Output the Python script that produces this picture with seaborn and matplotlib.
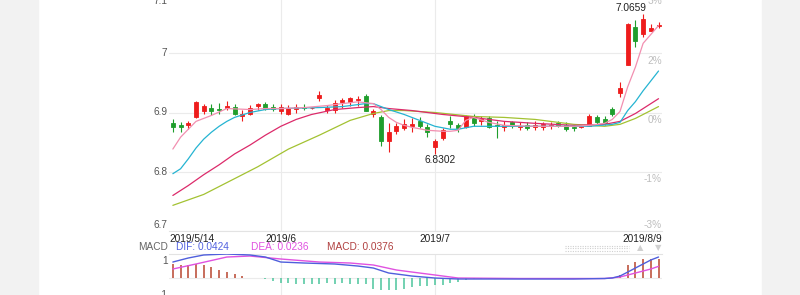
import numpy as np
import pandas as pd
import matplotlib
matplotlib.use("Agg")
import matplotlib.pyplot as plt
import seaborn as sns
from matplotlib.patches import Rectangle
from matplotlib.lines import Line2D

sns.set_style("white")
plt.rcParams["font.family"] = ["Liberation Sans", "DejaVu Sans"]

# ---------------- data ----------------
dates = ["2019/5/14", "2019/5/15", "2019/5/16", "2019/5/17", "2019/5/20", "2019/5/21", "2019/5/22",
         "2019/5/23", "2019/5/24", "2019/5/27", "2019/5/28", "2019/5/29", "2019/5/30", "2019/5/31",
         "2019/6/3", "2019/6/4", "2019/6/5", "2019/6/6", "2019/6/7", "2019/6/10", "2019/6/11",
         "2019/6/12", "2019/6/13", "2019/6/14", "2019/6/17", "2019/6/18", "2019/6/19", "2019/6/20",
         "2019/6/21", "2019/6/24", "2019/6/25", "2019/6/26", "2019/6/27", "2019/6/28",
         "2019/7/1", "2019/7/2", "2019/7/3", "2019/7/4", "2019/7/5", "2019/7/8", "2019/7/9",
         "2019/7/10", "2019/7/11", "2019/7/12", "2019/7/15", "2019/7/16", "2019/7/17", "2019/7/18",
         "2019/7/19", "2019/7/22", "2019/7/23", "2019/7/24", "2019/7/25", "2019/7/26", "2019/7/29",
         "2019/7/30", "2019/7/31", "2019/8/1", "2019/8/2", "2019/8/5", "2019/8/6", "2019/8/7",
         "2019/8/8", "2019/8/9"]

open_ = [6.8817, 6.8783, 6.8783, 6.8917, 6.9017, 6.9083, 6.9067, 6.9083, 6.9100, 6.8933,
         6.8983, 6.9117, 6.9150, 6.9100, 6.9033, 6.8983, 6.9067, 6.9100, 6.9075, 6.9250,
         6.9050, 6.9050, 6.9183, 6.9183, 6.9208, 6.9283, 6.8967, 6.8917, 6.8517, 6.8683,
         6.8733, 6.8767, 6.8850, 6.8750, 6.8417, 6.8567, 6.8850, 6.8783, 6.8750, 6.8933,
         6.8850, 6.8900, 6.8792, 6.8750, 6.8833, 6.8758, 6.8783, 6.8750, 6.8750, 6.8775,
         6.8817, 6.8783, 6.8758, 6.8750, 6.8767, 6.8917, 6.8883, 6.9067, 6.9333, 6.9800,
         7.0450, 7.0317, 7.0383, 7.0458]
close = [6.8750, 6.8750, 6.8817, 6.9183, 6.9117, 6.9017, 6.9050, 6.9117, 6.8983, 6.8983,
         6.9083, 6.9150, 6.9067, 6.9067, 6.9100, 6.9083, 6.9100, 6.9083, 6.9083, 6.9300,
         6.9083, 6.9167, 6.9217, 6.9250, 6.9225, 6.9033, 6.9033, 6.8517, 6.8667, 6.8767,
         6.8800, 6.8800, 6.8767, 6.8667, 6.8517, 6.8700, 6.8800, 6.8733, 6.8933, 6.8817,
         6.8883, 6.8750, 6.8775, 6.8783, 6.8767, 6.8775, 6.8733, 6.8783, 6.8800, 6.8792,
         6.8767, 6.8717, 6.8742, 6.8767, 6.8933, 6.8833, 6.8817, 6.8967, 6.9417, 7.0500,
         7.0200, 7.0583, 7.0433, 7.0475]
high = [6.8883, 6.8833, 6.8850, 6.9200, 6.9150, 6.9150, 6.9167, 6.9200, 6.9150, 6.9050,
        6.9133, 6.9167, 6.9183, 6.9150, 6.9150, 6.9133, 6.9150, 6.9150, 6.9092, 6.9367,
        6.9133, 6.9217, 6.9250, 6.9267, 6.9283, 6.9317, 6.9067, 6.8950, 6.8817, 6.8817,
        6.8883, 6.8900, 6.8917, 6.8800, 6.8550, 6.8733, 6.8933, 6.8817, 6.8950, 6.8967,
        6.8933, 6.8933, 6.8850, 6.8850, 6.8850, 6.8833, 6.8833, 6.8850, 6.8833, 6.8833,
        6.8850, 6.8833, 6.8800, 6.8783, 6.8967, 6.8950, 6.8933, 6.9100, 6.9517, 7.0517,
        7.0567, 7.0659, 7.0500, 7.0533]
low = [6.8667, 6.8667, 6.8717, 6.8900, 6.8983, 6.8950, 6.8967, 6.9050, 6.8950, 6.8850,
       6.8950, 6.9050, 6.9050, 6.9017, 6.8983, 6.8950, 6.9000, 6.9050, 6.9067, 6.9200,
       6.9000, 6.9000, 6.9083, 6.9117, 6.9117, 6.9017, 6.8917, 6.8433, 6.8333, 6.8633,
       6.8700, 6.8667, 6.8733, 6.8583, 6.8302, 6.8533, 6.8733, 6.8667, 6.8733, 6.8767,
       6.8783, 6.8733, 6.8567, 6.8683, 6.8733, 6.8700, 6.8700, 6.8700, 6.8700, 6.8717,
       6.8750, 6.8683, 6.8683, 6.8733, 6.8767, 6.8783, 6.8783, 6.8933, 6.9267, 6.9800,
       7.0100, 7.0267, 7.0383, 7.0433]

# moving averages (vertices read at candle indices)
ma5_idx = [0, 1, 2, 3, 5, 7, 10, 12, 14, 17, 20, 22, 24, 26, 27, 28, 29, 30, 31, 33, 35, 36, 37,
           38, 39, 41, 43, 47, 52, 54, 56, 57, 58, 59, 60, 61, 62, 63]
ma5_val = [6.8383, 6.8583, 6.8717, 6.8850, 6.8950, 6.9067, 6.9050, 6.9067, 6.9067, 6.9083, 6.9117,
           6.9150, 6.9180, 6.9150, 6.9050, 6.8917, 6.8833, 6.8783, 6.8750, 6.8700, 6.8683, 6.8683,
           6.8700, 6.8867, 6.8917, 6.8833, 6.8783, 6.8767, 6.8767, 6.8783, 6.8817, 6.8883, 6.9017,
           6.9433, 6.9767, 7.0167, 7.0317, 7.0467]
ma10_idx = [0, 1, 2, 3, 4, 5, 6, 7, 8, 10, 12, 14, 19, 22, 25, 26, 27, 28, 30, 32, 34, 36, 37, 39,
            42, 47, 54, 57, 58, 59, 60, 61, 62, 63]
ma10_val = [6.7967, 6.8050, 6.8217, 6.8400, 6.8550, 6.8667, 6.8767, 6.8850, 6.8917, 6.9000, 6.9050,
            6.9067, 6.9083, 6.9100, 6.9150, 6.9150, 6.9100, 6.9050, 6.8967, 6.8867, 6.8767, 6.8717,
            6.8717, 6.8767, 6.8767, 6.8767, 6.8767, 6.8800, 6.8833, 6.9033, 6.9183, 6.9367, 6.9533,
            6.9700]
ma20_idx = [0, 2, 4, 6, 8, 10, 12, 14, 16, 18, 21, 24, 26, 28, 31, 35, 39, 43, 47, 52, 56, 58, 60, 63]
ma20_val = [6.7600, 6.7767, 6.7950, 6.8117, 6.8300, 6.8450, 6.8617, 6.8767, 6.8883, 6.8967, 6.9050,
            6.9083, 6.9100, 6.9067, 6.9033, 6.8967, 6.8917, 6.8850, 6.8817, 6.8783, 6.8800, 6.8850,
            6.8983, 6.9233]
ma30_idx = [0, 4, 8, 11, 13, 15, 19, 23, 26, 28, 30, 34, 39, 43, 47, 52, 56, 58, 60, 63]
ma30_val = [6.7433, 6.7617, 6.7883, 6.8083, 6.8233, 6.8383, 6.8617, 6.8867, 6.8983, 6.9033, 6.9033,
            6.9000, 6.8933, 6.8917, 6.8883, 6.8800, 6.8767, 6.8800, 6.8900, 6.9100]

# MACD
macd_hist = [0.0283, 0.0263, 0.0263, 0.0283, 0.0263, 0.0222, 0.0162, 0.0121, 0.0081, 0.0040,
             0.0010, -0.0005, -0.0020, -0.0055, -0.0110, -0.0100, -0.0120, -0.0120, -0.0120, -0.0120,
             -0.0110, -0.0120, -0.0110, -0.0120, -0.0120, -0.0120, -0.0220, -0.0240, -0.0240, -0.0240,
             -0.0220, -0.0180, -0.0170, -0.0160, -0.0150, -0.0140, -0.0100, -0.0080, -0.0040, -0.0020,
             -0.0010, -0.0010, -0.0008, -0.0006, -0.0005, -0.0005, -0.0004, -0.0004, -0.0003, -0.0003,
             -0.0003, -0.0002, -0.0002, -0.0002, 0.0002, 0.0003, 0.0003, 0.0005, 0.0060, 0.0260,
             0.0320, 0.0380, 0.0378, 0.0376]
dif_idx = [0, 2, 4, 7, 10, 12, 14, 17, 21, 24, 26, 28, 30, 31, 34, 37, 45, 52, 56, 57, 58, 59, 60,
           61, 62, 63]
dif_val = [0.0323, 0.0404, 0.0465, 0.0485, 0.0465, 0.0424, 0.0323, 0.0303, 0.0283, 0.0242, 0.0202,
           0.0101, 0.0061, 0.0040, 0.0000, -0.0020, -0.0020, -0.0020, -0.0010, 0.0000, 0.0040, 0.0120,
           0.0202, 0.0283, 0.0364, 0.0424]
dea_idx = [0, 3, 7, 10, 14, 19, 23, 26, 29, 31, 34, 37, 45, 56, 58, 60, 62, 63]
dea_val = [0.0182, 0.0283, 0.0424, 0.0444, 0.0384, 0.0323, 0.0303, 0.0263, 0.0162, 0.0121, 0.0061,
           0.0000, -0.0010, -0.0010, 0.0020, 0.0101, 0.0182, 0.0236]

price_ticks = [6.7, 6.8, 6.9, 7.0, 7.1]
price_labels = ["6.7", "6.8", "6.9", "7", "7.1"]
pct_labels = ["-3%", "-1%", "0%", "2%", "3%"]
month_idx = [14, 34]
month_labels = ["2019/6", "2019/7"]

# ---------------- style ----------------
RED = "#ee1c1c"
GREEN = "#1f9e2c"
GRID = "#ebebeb"
FS = 7.3

W, H = 800, 295
fig = plt.figure(figsize=(8, 2.95), dpi=100)
fig.patch.set_facecolor("white")
fig.patches.append(Rectangle((0, 0), 38 / W, 1, transform=fig.transFigure, color="#f2f2f2", zorder=-10))
fig.patches.append(Rectangle((762 / W, 0), 38 / W, 1, transform=fig.transFigure, color="#f2f2f2", zorder=-10))

def fy(py):
    return 1 - py / H

n = len(open_)
x = np.arange(n)
XL = (-0.5, 63.45)

# main panel
ax = fig.add_axes([169 / W, fy(231), 493 / W, 237 / H])
ax.set_xlim(*XL)
ax.set_ylim(6.7, 7.1)
ax.set_yticks(price_ticks)
ax.set_xticks(month_idx)
ax.grid(True, color=GRID, linewidth=0.8)
ax.tick_params(length=0, labelleft=False, labelbottom=False)
for s in ["top", "left", "right"]:
    ax.spines[s].set_visible(False)
ax.spines["bottom"].set_color("#e3e3e3")
ax.spines["bottom"].set_linewidth(0.8)
ax.set_facecolor("white")

# candles
colors = [RED if c >= o else GREEN for o, c in zip(open_, close)]
ax.vlines(x, low, high, colors=colors, linewidth=0.8, zorder=3)
bottoms = [min(o, c) for o, c in zip(open_, close)]
heights = [abs(c - o) for o, c in zip(open_, close)]
ax.bar(x, heights, bottom=bottoms, width=0.52, color=colors, edgecolor=colors, linewidth=0.6, zorder=4)

# moving averages via seaborn
for idx, val, col in [(ma30_idx, ma30_val, "#a3c232"), (ma20_idx, ma20_val, "#dc2a6a"),
                      (ma10_idx, ma10_val, "#25b4d2"), (ma5_idx, ma5_val, "#f28fb0")]:
    sns.lineplot(x=idx, y=val, ax=ax, color=col, linewidth=0.9, sort=False, legend=False, zorder=5)
ax.set_xlabel("")
ax.set_ylabel("")

def lab(a, text, xf, yv, dx, dy, ha, va, color, size=FS, coords=("axes fraction", "data")):
    a.annotate(text, xy=(xf, yv), xycoords=coords, xytext=(dx * 0.72, dy * 0.72),
               textcoords="offset points", ha=ha, va=va, color=color, fontsize=size,
               annotation_clip=False)

# left price labels
for t, l in zip(price_ticks, price_labels):
    if l == "7.1":
        lab(ax, l, 0, t, -1.5, -7, "right", "center", "#555555")
    elif l == "6.7":
        lab(ax, l, 0, t, -1.5, 1, "right", "bottom", "#555555")
    else:
        lab(ax, l, 0, t, -1.5, 0, "right", "center", "#555555")
# right percentage labels
for t, l in zip(price_ticks, pct_labels):
    if l == "-3%":
        lab(ax, l, 1, t, 0, 1, "right", "bottom", "#bdbdbd")
    else:
        lab(ax, l, 1, t, 0, -2.5, "right", "top", "#bdbdbd")

# date labels
lab(ax, dates[0], 0, 6.7, 0, -3, "left", "top", "#222222", coords=("axes fraction", "data"))
for mi, ml in zip(month_idx, month_labels):
    lab(ax, ml, mi, 6.7, 0, -3, "center", "top", "#222222", coords=("data", "data"))
lab(ax, dates[-1], 1, 6.7, 0, -3, "right", "top", "#222222", coords=("axes fraction", "data"))

# high / low labels
imax = int(np.argmax(high))
imin = int(np.argmin(low))
lab(ax, f"{high[imax]:.4f}", imax, high[imax], -12, 1.5, "center", "bottom", "#222222", coords=("data", "data"))
lab(ax, f"{low[imin]:.4f}", imin, low[imin], 5, -1.5, "center", "top", "#222222", coords=("data", "data"))

# legend row for MACD
ly = fy(247.5)
fig.text(167.7 / W, ly, "MACD", ha="right", va="center", color="#666666", fontsize=FS)
fig.text(176 / W, ly, f"DIF: {dif_val[-1]:.4f}", ha="left", va="center", color="#5262e0", fontsize=FS)
fig.text(251 / W, ly, f"DEA: {dea_val[-1]:.4f}", ha="left", va="center", color="#e052e0", fontsize=FS)
fig.text(327 / W, ly, f"MACD: {macd_hist[-1]:.4f}", ha="left", va="center", color="#b04040", fontsize=FS)
for yy in (245.5, 248, 250.5):
    fig.add_artist(Line2D([565 / W, 629 / W], [fy(yy), fy(yy)], color="#d0d0d0",
                          linewidth=0.8, linestyle=(0, (1, 1.2))))
fig.text(640 / W, ly, "▲", ha="center", va="center", color="#d0d0d0", fontsize=6,
         family=["DejaVu Sans"])
fig.text(658 / W, ly, "▼", ha="center", va="center", color="#d0d0d0", fontsize=6,
         family=["DejaVu Sans"])

# MACD panel
ax2 = fig.add_axes([169 / W, fy(300), 493 / W, 46 / H])
ax2.set_xlim(*XL)
ax2.set_ylim(-0.0444, 0.0485)
ax2.set_xticks(month_idx)
ax2.set_yticks([0])
ax2.grid(True, color=GRID, linewidth=0.8)
ax2.tick_params(length=0, labelleft=False, labelbottom=False)
for s in ["bottom", "left", "right"]:
    ax2.spines[s].set_visible(False)
ax2.spines["top"].set_color("#e3e3e3")
ax2.spines["top"].set_linewidth(0.8)
hist_colors = ["#b8452f" if v >= 0 else "#4cc59c" for v in macd_hist]
ax2.vlines(x, 0, macd_hist, colors=hist_colors, linewidth=1.1, zorder=3)
sns.lineplot(x=dea_idx, y=dea_val, ax=ax2, color="#e052e0", linewidth=1.0, sort=False, legend=False, zorder=4)
sns.lineplot(x=dif_idx, y=dif_val, ax=ax2, color="#4f5fdc", linewidth=1.0, sort=False, legend=False, zorder=5)
ax2.set_xlabel("")
ax2.set_ylabel("")
lab(ax2, "1", 0, 0.0343, -1.5, 0, "right", "center", "#555555")
lab(ax2, "-1", 0, -0.0343, -1.5, 0, "right", "center", "#555555")

fig.savefig("out.png", dpi=100)
